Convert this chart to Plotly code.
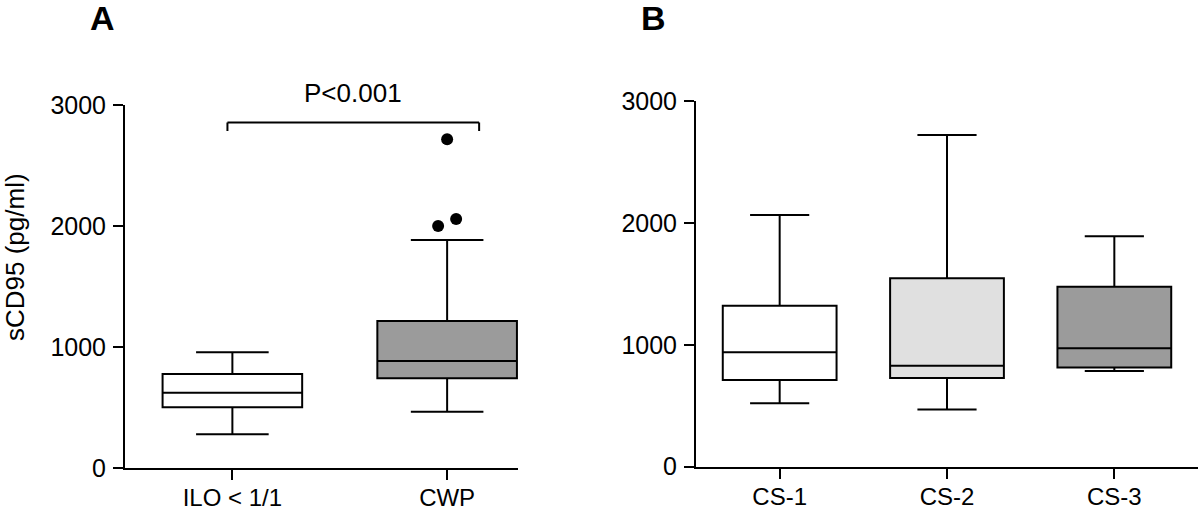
import plotly.graph_objects as go

# panel A: sCD95 by ILO grade
groups_a = ["ILO < 1/1", "CWP"]
a_lower = [281, 468]
a_q1 = [504, 744]
a_median = [625, 887]
a_q3 = [780, 1218]
a_upper = [959, 1887]
a_outliers = [2719, 2060, 2002]  # all CWP
p_text = "P<0.001"

# panel B: sCD95 by CS category
groups_b = ["CS-1", "CS-2", "CS-3"]
b_lower = [520, 470, 785]
b_q1 = [711, 727, 813]
b_median = [938, 829, 971]
b_q3 = [1321, 1545, 1477]
b_upper = [2065, 2721, 1890]

y_ticks = [0, 1000, 2000, 3000]

FONT = "Arial, Liberation Sans, sans-serif"
W, H = 1200, 511
a_fill = ["white", "#9b9b9b"]
b_fill = ["white", "#e0e0e0", "#9b9b9b"]
box_line = dict(color="black", width=2)

fig = go.Figure()

for i, name in enumerate(groups_a):
    fig.add_trace(go.Box(
        x=[i], q1=[a_q1[i]], median=[a_median[i]], q3=[a_q3[i]],
        lowerfence=[a_lower[i]], upperfence=[a_upper[i]],
        width=0.65, whiskerwidth=0.52, fillcolor=a_fill[i], line=box_line,
        boxpoints=False, name=name, xaxis="x", yaxis="y", hoverinfo="skip",
    ))

jitter = [0.0, 0.042, -0.042]
fig.add_trace(go.Scatter(
    x=[1 + j for j in jitter], y=a_outliers, mode="markers",
    marker=dict(color="black", size=12), xaxis="x", yaxis="y", hoverinfo="skip",
))

for i, name in enumerate(groups_b):
    fig.add_trace(go.Box(
        x=[i], q1=[b_q1[i]], median=[b_median[i]], q3=[b_q3[i]],
        lowerfence=[b_lower[i]], upperfence=[b_upper[i]],
        width=0.68, whiskerwidth=0.52, fillcolor=b_fill[i], line=box_line,
        boxpoints=False, name=name, xaxis="x2", yaxis="y2", hoverinfo="skip",
    ))

# significance bracket over panel A
bx0, bx1, by, bdrop = -0.023, 1.149, 2857, 70
for xs, ys in [((bx0, bx1), (by, by)), ((bx0, bx0), (by, by - bdrop)), ((bx1, bx1), (by, by - bdrop))]:
    fig.add_shape(type="line", xref="x", yref="y", x0=xs[0], x1=xs[1], y0=ys[0], y1=ys[1],
                  line=dict(color="black", width=2))

# text sits above the axis top, so place it in domain units (data refs get hidden out of range)
fig.add_annotation(x=(bx0 + bx1) / 2, y=3099 / 3000, xref="x", yref="y domain", text=p_text,
                   showarrow=False, font=dict(family=FONT, size=26, color="black"), yanchor="middle")
for letter, px in [("A", 102.5), ("B", 653)]:
    fig.add_annotation(x=px / W, y=1 - 18 / H, xref="paper", yref="paper", text=f"<b>{letter}</b>",
                       showarrow=False, xanchor="center", yanchor="middle",
                       font=dict(family=FONT, size=34, color="black"))
# y title sits a bit above the axis middle in the original, so it is an annotation
fig.add_annotation(x=15 / W, y=1 - 257 / H, xref="paper", yref="paper", text="sCD95 (pg/ml)",
                   textangle=-90, showarrow=False, xanchor="center", yanchor="middle",
                   font=dict(family=FONT, size=26, color="black"))

axis_common = dict(showline=True, linecolor="black", linewidth=2, ticks="outside", ticklen=10,
                   tickwidth=2, tickcolor="black", showgrid=False, zeroline=False, automargin=False,
                   tickfont=dict(family=FONT, size=25, color="black"))

fig.update_layout(
    margin=dict(l=0, r=0, t=0, b=0),
    paper_bgcolor="white", plot_bgcolor="white",
    showlegend=False,
    font=dict(family=FONT, color="black"),
    xaxis=dict(domain=[125 / W, 518 / W], range=[-0.5, 1.33], tickvals=[0, 1],
               ticktext=groups_a, anchor="y", **axis_common),
    yaxis=dict(domain=[1 - 468.3 / H, 1 - 105.3 / H], range=[0, 3000], tickvals=y_ticks,
               anchor="x", ticklabelstandoff=2, **axis_common),
    xaxis2=dict(domain=[696 / W, 1198 / W], range=[-0.5, 2.5], tickvals=[0, 1, 2],
                ticktext=groups_b, anchor="y2", **axis_common),
    yaxis2=dict(domain=[1 - 466.7 / H, 1 - 101 / H], range=[0, 3000], tickvals=y_ticks,
                anchor="x2", ticklabelstandoff=2, **axis_common),
)
fig.update_xaxes(ticklabelstandoff=-3, tickfont_size=24)

# drop the default page margin so the figure fills the whole window
fig.write_html(
    "out.html",
    config={"displayModeBar": False},
    post_script="document.body.style.margin='0';Plotly.Plots.resize(document.getElementById('{plot_id}'));",
)
